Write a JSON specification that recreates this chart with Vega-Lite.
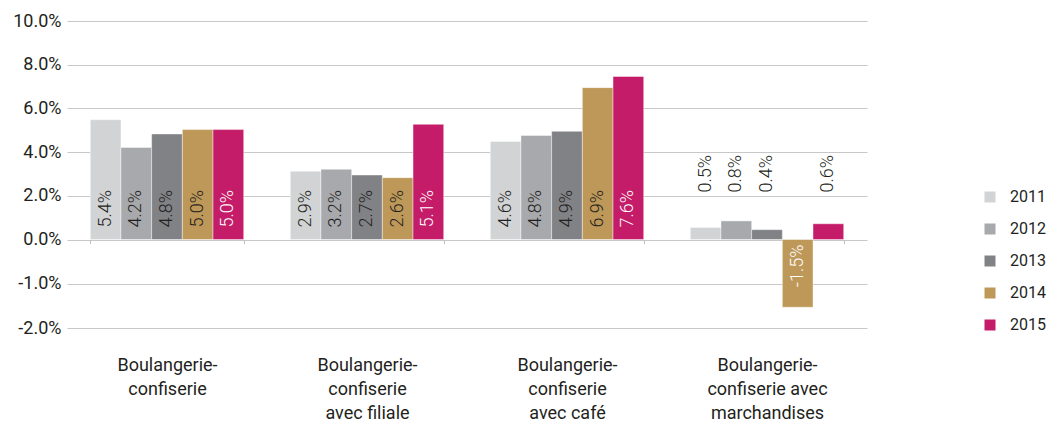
{
  "$schema": "https://vega.github.io/schema/vega-lite/v6.json",
  "autosize": {"type": "none"},
  "padding": {"left": 67, "top": 21, "right": 185, "bottom": 96},
  "width": 800,
  "height": 307,
  "config": {"font": "Roboto", "view": {"stroke": null}},
  "data": {
    "values": [
      {"cat": "Boulangerie-|confiserie", "year": "2011", "value": 5.48, "label": "5.4%"},
      {"cat": "Boulangerie-|confiserie", "year": "2012", "value": 4.21, "label": "4.2%"},
      {"cat": "Boulangerie-|confiserie", "year": "2013", "value": 4.83, "label": "4.8%"},
      {"cat": "Boulangerie-|confiserie", "year": "2014", "value": 5.03, "label": "5.0%"},
      {"cat": "Boulangerie-|confiserie", "year": "2015", "value": 5.03, "label": "5.0%"},
      {"cat": "Boulangerie-|confiserie|avec filiale", "year": "2011", "value": 3.12, "label": "2.9%"},
      {"cat": "Boulangerie-|confiserie|avec filiale", "year": "2012", "value": 3.21, "label": "3.2%"},
      {"cat": "Boulangerie-|confiserie|avec filiale", "year": "2013", "value": 2.95, "label": "2.7%"},
      {"cat": "Boulangerie-|confiserie|avec filiale", "year": "2014", "value": 2.83, "label": "2.6%"},
      {"cat": "Boulangerie-|confiserie|avec filiale", "year": "2015", "value": 5.27, "label": "5.1%"},
      {"cat": "Boulangerie-|confiserie|avec café", "year": "2011", "value": 4.49, "label": "4.6%"},
      {"cat": "Boulangerie-|confiserie|avec café", "year": "2012", "value": 4.76, "label": "4.8%"},
      {"cat": "Boulangerie-|confiserie|avec café", "year": "2013", "value": 4.95, "label": "4.9%"},
      {"cat": "Boulangerie-|confiserie|avec café", "year": "2014", "value": 6.95, "label": "6.9%"},
      {"cat": "Boulangerie-|confiserie|avec café", "year": "2015", "value": 7.46, "label": "7.6%"},
      {"cat": "Boulangerie-|confiserie avec|marchandises", "year": "2011", "value": 0.55, "label": "0.5%"},
      {"cat": "Boulangerie-|confiserie avec|marchandises", "year": "2012", "value": 0.85, "label": "0.8%"},
      {"cat": "Boulangerie-|confiserie avec|marchandises", "year": "2013", "value": 0.45, "label": "0.4%"},
      {"cat": "Boulangerie-|confiserie avec|marchandises", "year": "2014", "value": -1.53, "label": "-1.5%"},
      {"cat": "Boulangerie-|confiserie avec|marchandises", "year": "2015", "value": 0.72, "label": "0.6%"}
    ]
  },
  "encoding": {
    "x": {
      "field": "cat",
      "type": "nominal",
      "sort": null,
      "scale": {"paddingInner": 0.233, "paddingOuter": 0.1165},
      "axis": {
        "title": null,
        "orient": "bottom",
        "offset": -88.5,
        "domain": false,
        "ticks": true,
        "tickBand": "extent",
        "tickSize": 4,
        "tickColor": "#bfbfbf",
        "labelPadding": 113,
        "labelAngle": 0,
        "labelFontSize": 18,
        "labelColor": "#231f20",
        "labelLineHeight": 24,
        "labelBaseline": "top",
        "labelLimit": 0,
        "labelOverlap": false,
        "labelExpr": "split(datum.label, '|')"
      }
    },
    "xOffset": {"field": "year", "type": "nominal", "scale": {"paddingInner": 0, "paddingOuter": 0}}
  },
  "layer": [
    {
      "mark": {"type": "bar", "stroke": "#ffffff", "strokeWidth": 0.6, "strokeOpacity": 0.7},
      "encoding": {
        "y": {
          "field": "value",
          "type": "quantitative",
          "scale": {"domain": [-2, 0, 10], "range": [307, 218.5, 0], "nice": false, "zero": false},
          "axis": {
            "title": null,
            "values": [-2, -1, 0, 2, 4, 6, 8, 10],
            "grid": true,
            "gridColor": "#c8c8c8",
            "gridWidth": 1,
            "domain": false,
            "ticks": false,
            "labelPadding": 6,
            "labelFontSize": 18,
            "labelColor": "#231f20",
            "labelExpr": "(datum.value < 0 ? '-' : '') + format(abs(datum.value), '.1f') + '%'"
          }
        },
        "y2": {"datum": 0},
        "color": {
          "field": "year",
          "type": "nominal",
          "scale": {"domain": ["2011", "2012", "2013", "2014", "2015"], "range": ["#d1d3d4", "#a7a9ac", "#808285", "#bd9859", "#c41c68"]},
          "legend": {
            "title": null,
            "orient": "none",
            "legendX": 915,
            "legendY": 168,
            "symbolType": "square",
            "symbolSize": 121,
            "symbolStrokeWidth": 0,
            "labelFontSize": 16,
            "labelColor": "#231f20",
            "labelOffset": 12,
            "rowPadding": 16
          }
        }
      }
    },
    {
      "transform": [{"filter": "indexof(datum.cat, 'marchandises') < 0"}],
      "mark": {"type": "text", "angle": 270, "align": "left", "baseline": "middle", "dx": 12, "fontSize": 18, "fontWeight": 300},
      "encoding": {
        "y": {"datum": 0},
        "text": {"field": "label"},
        "color": {"condition": {"test": "datum.year === '2015'", "value": "#ffffff"}, "value": "#231f20"}
      }
    },
    {
      "transform": [{"filter": "indexof(datum.cat, 'marchandises') >= 0 && datum.value > 0"}],
      "mark": {"type": "text", "angle": 270, "align": "left", "baseline": "middle", "dx": 47, "fontSize": 18, "fontWeight": 300, "color": "#231f20"},
      "encoding": {
        "y": {"datum": 0},
        "text": {"field": "label"}
      }
    },
    {
      "transform": [{"filter": "datum.value < 0"}],
      "mark": {"type": "text", "angle": 270, "align": "right", "baseline": "middle", "dx": -5, "fontSize": 18, "fontWeight": 300, "color": "#ffffff"},
      "encoding": {
        "y": {"datum": 0},
        "text": {"field": "label"}
      }
    }
  ]
}
